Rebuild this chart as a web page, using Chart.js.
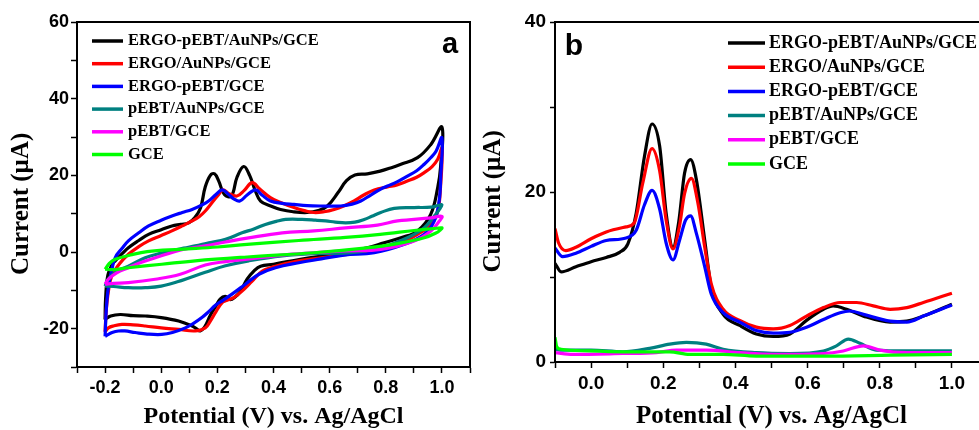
<!DOCTYPE html>
<html>
<head>
<meta charset="utf-8">
<script src="https://cdn.jsdelivr.net/npm/chart.js@4"></script>
<style>
  html, body { margin: 0; padding: 0; background: #fff; overflow: hidden; }
  body { width: 979px; height: 430px; position: relative; }
  canvas { position: absolute; top: 0; }
  #cvChart { left: 0; }
  #dpvChart { left: 480px; }
</style>
</head>
<body>
<canvas id="cvChart" width="480" height="430"></canvas>
<canvas id="dpvChart" width="520" height="430"></canvas>
<script>
// legend labels, same order in both panels
const electrodes = ['ERGO-pEBT/AuNPs/GCE', 'ERGO/AuNPs/GCE', 'ERGO-pEBT/GCE', 'pEBT/AuNPs/GCE', 'pEBT/GCE', 'GCE'];
const colours = ['#000000', '#ff0000', '#0000ff', '#008080', '#ff00ff', '#00ff00'];

// (a) cyclic voltammograms: [potential V, current uA], forward sweep then back
const cvErgoPebtAu = [[-0.2,-17.6],[-0.198,-12],[-0.19,-6],[-0.175,-3.3],[-0.164,-2.3],[-0.14,-0.5],[-0.117,1.1],[-0.08,3.0],[-0.045,4.6],[0.0,5.8],[0.038,6.8],[0.07,7.2],[0.098,7.6],[0.12,9.0],[0.14,11.5],[0.157,17.0],[0.175,20.0],[0.19,20.4],[0.205,18.5],[0.225,15.0],[0.25,14.6],[0.27,19.5],[0.294,22.3],[0.315,20.0],[0.335,16.0],[0.354,13.3],[0.39,12.0],[0.425,11.1],[0.47,10.5],[0.52,10.3],[0.56,10.8],[0.592,12.0],[0.63,15.5],[0.66,18.6],[0.69,20.1],[0.734,20.4],[0.78,21.1],[0.82,22.0],[0.854,22.9],[0.913,24.6],[0.96,28.0],[1.0,32.6],
  [0.995,22],[0.985,16.8],[0.96,9.8],[0.913,5.5],[0.854,3.7],[0.794,2.4],[0.734,1.1],[0.615,-0.6],[0.496,-1.9],[0.4,-3.2],[0.354,-3.7],[0.33,-5.0],[0.306,-7.1],[0.282,-10.3],[0.262,-11.8],[0.246,-12.4],[0.228,-11.6],[0.21,-12.3],[0.193,-14.3],[0.175,-16.5],[0.155,-19.5],[0.139,-20.6],[0.125,-20.0],[0.11,-19.3],[0.062,-18.0],[0.0,-17.1],[-0.057,-16.7],[-0.1,-16.6],[-0.146,-16.3],[-0.18,-16.7],[-0.2,-17.6]];
const cvErgoAu = [[-0.2,-20.8],[-0.196,-15.5],[-0.188,-10.2],[-0.176,-6.2],[-0.15,-3.2],[-0.117,-0.6],[-0.08,1.4],[-0.045,2.9],[0.0,4.3],[0.038,5.5],[0.075,6.8],[0.11,8.1],[0.135,9.2],[0.157,10.7],[0.18,12.8],[0.205,15.0],[0.22,16.2],[0.24,15.3],[0.27,14.6],[0.295,16.0],[0.324,18.1],[0.35,16.5],[0.389,14.2],[0.43,12.8],[0.473,11.6],[0.51,10.8],[0.544,10.3],[0.58,10.5],[0.616,11.1],[0.65,12.0],[0.687,13.3],[0.72,14.8],[0.759,16.2],[0.806,17.0],[0.84,17.5],[0.877,18.5],[0.91,19.5],[0.937,20.7],[0.965,22.3],[0.985,24.2],[1.0,27.0],
  [0.995,17],[0.985,10.7],[0.961,7.2],[0.913,4.6],[0.842,2.0],[0.759,0.3],[0.663,-0.6],[0.57,-1.5],[0.49,-2.3],[0.407,-3.7],[0.36,-5.0],[0.324,-7.6],[0.288,-10.2],[0.258,-11.9],[0.235,-12.6],[0.217,-13.2],[0.193,-15.8],[0.175,-18.0],[0.157,-19.8],[0.121,-20.6],[0.062,-20.2],[0.0,-19.8],[-0.057,-19.3],[-0.1,-19.0],[-0.14,-18.9],[-0.17,-19.3],[-0.188,-19.8],[-0.2,-20.8]];
const cvErgoPebt = [[-0.2,-22],[-0.196,-15.4],[-0.19,-10.2],[-0.182,-6.7],[-0.164,-1.5],[-0.14,0.9],[-0.117,2.9],[-0.08,5.0],[-0.045,6.8],[0.0,8.3],[0.038,9.4],[0.075,10.3],[0.11,11.1],[0.14,12.1],[0.169,13.3],[0.195,15.0],[0.217,16.2],[0.24,15.0],[0.26,13.8],[0.28,13.3],[0.305,14.8],[0.336,16.2],[0.36,14.8],[0.389,13.3],[0.43,12.7],[0.473,12.4],[0.52,12.1],[0.568,12.0],[0.639,12.0],[0.68,12.5],[0.711,13.3],[0.745,14.8],[0.782,16.4],[0.806,17.2],[0.84,18.3],[0.877,19.8],[0.91,21.2],[0.937,22.9],[0.96,24.6],[0.979,26.3],[1.0,29.8],
  [0.996,20],[0.99,13.3],[0.973,8.1],[0.937,4.6],[0.866,2.0],[0.759,-0.2],[0.651,-0.8],[0.57,-1.8],[0.49,-2.8],[0.407,-4.1],[0.348,-5.8],[0.3,-8.4],[0.252,-11.0],[0.22,-12.6],[0.193,-13.9],[0.17,-15.5],[0.145,-17.1],[0.115,-18.6],[0.086,-19.8],[0.04,-21.0],[0.002,-21.5],[-0.05,-21.4],[-0.093,-21.0],[-0.13,-20.6],[-0.152,-20.6],[-0.175,-21.0],[-0.188,-21.5],[-0.2,-22.0]];
const cvPebtAu = [[-0.2,-8.9],[-0.19,-7.2],[-0.17,-5.7],[-0.15,-4.7],[-0.117,-3.7],[-0.057,-1.5],[0.0,-0.3],[0.038,0.3],[0.08,1.0],[0.121,1.6],[0.17,2.4],[0.229,3.3],[0.288,5.0],[0.33,6.0],[0.371,7.2],[0.41,8.0],[0.443,8.5],[0.502,8.5],[0.55,8.3],[0.586,8.1],[0.62,7.8],[0.657,7.6],[0.69,7.8],[0.723,8.5],[0.75,9.3],[0.782,10.3],[0.83,11.4],[0.901,11.6],[0.961,11.7],[0.99,12.2],[1.0,12.3],
  [0.99,11],[0.973,9.4],[0.937,6.3],[0.877,3.7],[0.782,1.1],[0.675,-0.2],[0.55,-0.4],[0.431,-1.0],[0.312,-2.3],[0.229,-3.6],[0.157,-5.3],[0.074,-7.4],[0.0,-8.9],[-0.057,-9.3],[-0.117,-9.3],[-0.17,-9.0],[-0.2,-8.9]];
const cvPebt = [[-0.2,-8.4],[-0.188,-7.1],[-0.16,-5.5],[-0.117,-4.1],[-0.07,-2.7],[-0.021,-1.5],[0.074,0.6],[0.157,1.6],[0.229,2.6],[0.306,3.6],[0.431,5.0],[0.544,5.5],[0.657,6.3],[0.77,7.0],[0.842,8.1],[0.961,8.9],[1.0,9.3],
  [0.99,8.0],[0.961,5.5],[0.901,2.9],[0.782,0.7],[0.657,0.3],[0.544,-0.2],[0.431,-0.8],[0.306,-1.9],[0.229,-2.5],[0.157,-3.4],[0.068,-5.8],[-0.021,-7.1],[-0.117,-8.0],[-0.17,-8.2],[-0.2,-8.4]];
const cvBare = [[-0.2,-4.5],[-0.185,-3.0],[-0.164,-1.9],[-0.11,-0.8],[-0.05,0.1],[0.068,0.7],[0.2,1.3],[0.306,2.0],[0.49,3.0],[0.657,3.8],[0.78,4.6],[0.901,5.6],[0.98,6.2],[1.0,6.3],
  [0.995,5.8],[0.985,5.2],[0.937,3.7],[0.842,2.2],[0.723,1.0],[0.544,-0.2],[0.306,-1.3],[0.121,-2.3],[0.002,-3.2],[-0.117,-4.1],[-0.17,-4.6],[-0.2,-4.5]];

// (b) differential pulse voltammograms: [potential V, current uA]
const dpvErgoPebtAu = [[-0.1,11.6],[-0.083,10.6],[-0.042,11.2],[0.0,11.8],[0.042,12.3],[0.079,12.9],[0.102,13.9],[0.125,17.5],[0.148,24.2],[0.169,28.0],[0.19,25.4],[0.208,17.5],[0.227,13.5],[0.243,16.5],[0.259,22.2],[0.276,23.8],[0.292,21.4],[0.315,14.3],[0.333,8.8],[0.366,5.6],[0.412,4.3],[0.458,3.3],[0.505,3.0],[0.551,3.3],[0.597,4.9],[0.644,6.2],[0.671,6.6],[0.708,6.2],[0.755,5.4],[0.829,4.7],[0.875,4.8],[0.921,5.4],[1.0,6.8]];
const dpvErgoAu = [[-0.1,15.7],[-0.09,14.0],[-0.07,13.1],[-0.042,13.5],[0.0,14.5],[0.042,15.3],[0.097,15.9],[0.12,16.4],[0.143,21.0],[0.169,25.1],[0.19,22.5],[0.208,16.7],[0.227,13.3],[0.245,16.0],[0.259,19.8],[0.278,21.6],[0.296,18.7],[0.315,13.5],[0.333,9.2],[0.366,6.2],[0.412,4.9],[0.458,4.1],[0.505,3.9],[0.551,4.3],[0.597,5.4],[0.644,6.4],[0.69,7.0],[0.736,7.0],[0.782,6.6],[0.829,6.2],[0.875,6.4],[0.921,7.0],[1.0,8.1]];
const dpvErgoPebt = [[-0.1,13.4],[-0.079,12.4],[-0.042,12.8],[0.0,13.6],[0.042,14.3],[0.097,14.6],[0.125,15.5],[0.148,18.5],[0.169,20.2],[0.19,18.0],[0.208,14.0],[0.227,12.0],[0.245,14.3],[0.262,16.7],[0.276,17.2],[0.292,15.1],[0.315,11.2],[0.333,8.0],[0.366,5.8],[0.412,4.7],[0.458,3.7],[0.505,3.4],[0.551,3.5],[0.597,4.1],[0.644,5.0],[0.69,5.8],[0.718,6.0],[0.755,5.6],[0.829,4.8],[0.875,4.7],[0.921,5.4],[1.0,6.7]];
const dpvPebtAu = [[-0.1,1.5],[-0.08,1.4],[0.0,1.4],[0.088,1.2],[0.162,1.6],[0.218,2.1],[0.264,2.3],[0.319,2.1],[0.366,1.5],[0.458,1.1],[0.551,1.0],[0.644,1.3],[0.68,1.9],[0.713,2.7],[0.745,2.2],[0.79,1.4],[0.875,1.3],[1.0,1.3]];
const dpvPebt = [[-0.1,1.1],[-0.051,0.9],[0.088,1.0],[0.181,1.1],[0.236,1.4],[0.319,1.4],[0.412,1.1],[0.505,0.9],[0.644,1.0],[0.699,1.3],[0.755,1.9],[0.8,1.4],[0.875,1.1],[1.0,1.1]];
const dpvBare = [[-0.1,2.9],[-0.095,1.8],[-0.083,1.5],[-0.005,1.3],[0.088,1.2],[0.218,1.2],[0.273,0.9],[0.366,0.9],[0.458,0.7],[0.644,0.7],[0.829,0.8],[1.0,0.9]];

const cvSeries = [cvErgoPebtAu, cvErgoAu, cvErgoPebt, cvPebtAu, cvPebt, cvBare];
const dpvSeries = [dpvErgoPebtAu, dpvErgoAu, dpvErgoPebt, dpvPebtAu, dpvPebt, dpvBare];

const serif = 'Liberation Serif, Times New Roman, serif';
const sans = 'Liberation Sans, Arial, sans-serif';

// frame, in-plot legend and panel letter
const panelDecor = {
  id: 'panelDecor',
  afterDraw(chart, args, o) {
    const ctx = chart.ctx;
    const a = chart.chartArea;
    ctx.save();
    ctx.strokeStyle = '#000';
    ctx.lineWidth = 2;
    ctx.strokeRect(a.left, a.top, a.right - a.left, a.bottom - a.top);

    ctx.font = 'bold ' + o.legendSize + 'px ' + serif;
    ctx.textBaseline = 'middle';
    ctx.textAlign = 'left';
    chart.data.datasets.forEach((ds, i) => {
      const y = o.legendY + i * o.legendGap;
      ctx.strokeStyle = ds.borderColor;
      ctx.lineWidth = 3.5;
      ctx.beginPath();
      ctx.moveTo(o.legendX, y);
      ctx.lineTo(o.legendX + o.lineLen, y);
      ctx.stroke();
      ctx.fillStyle = '#000';
      ctx.fillText(ds.label, o.legendX + o.lineLen + o.textGap, y);
    });

    ctx.font = 'bold ' + o.letterSize + 'px ' + sans;
    ctx.textAlign = 'center';
    ctx.textBaseline = 'alphabetic';
    ctx.fillText(o.letter, o.letterX, o.letterY);
    ctx.restore();
  }
};

function makeDatasets(series, cubic) {
  return series.map((pts, i) => ({
    label: electrodes[i],
    data: pts.map(p => ({ x: p[0], y: p[1] })),
    borderColor: colours[i],
    backgroundColor: colours[i],
    borderWidth: 3.2,
    pointRadius: 0,
    showLine: true,
    fill: false,
    tension: 0.4,
    cubicInterpolationMode: cubic ? 'monotone' : 'default',
    order: series.length - i
  }));
}

function axisOpts(cfg) {
  return {
    type: 'linear',
    position: cfg.position,
    min: cfg.min,
    max: cfg.max,
    afterFit: cfg.fit,
    border: { display: true, color: '#000', width: 2 },
    grid: { drawOnChartArea: false, drawTicks: true, tickLength: cfg.tickLength, tickWidth: 1.5, tickColor: '#000' },
    ticks: {
      stepSize: cfg.step,
      autoSkip: false,
      maxRotation: 0,
      padding: cfg.padding,
      color: '#000',
      font: { family: sans, weight: 'bold', size: cfg.tickSize },
      callback: cfg.label
    },
    title: {
      display: true,
      text: cfg.title,
      color: '#000',
      font: { family: serif, weight: 'bold', size: cfg.titleSize, lineHeight: 1 },
      padding: cfg.titlePad
    }
  };
}

const tenthLabel = v => {
  const t = Math.round(v * 10);
  return t % 2 === 0 ? (t / 10).toFixed(1) : '';
};
const twentyLabel = v => (Math.round(v) % 20 === 0 ? Math.round(v) : '');

// trailing spaces nudge the rotated title a little lower, as in the original
const currentTitle = 'Current (\u00b5A)   ';

new Chart(document.getElementById('cvChart'), {
  type: 'scatter',
  data: { datasets: makeDatasets(cvSeries, false) },
  options: {
    responsive: false,
    animation: false,
    layout: { padding: { left: 0, right: 10, top: 22, bottom: 0 } },
    plugins: {
      legend: { display: false },
      tooltip: { enabled: false },
      panelDecor: { legendX: 92, legendY: 41, legendGap: 22.7, lineLen: 31, textGap: 5, legendSize: 16.5,
                    letter: 'a', letterX: 450, letterY: 53, letterSize: 29 }
    },
    scales: {
      x: axisOpts({ position: 'bottom', min: -0.3, max: 1.1, step: 0.1, tickLength: 6, padding: 4, tickSize: 18,
                    label: tenthLabel, title: 'Potential (V) vs. Ag/AgCl', titleSize: 24,
                    titlePad: { top: 0, bottom: 1 }, fit: s => { s.height = 63; } }),
      y: axisOpts({ position: 'left', min: -30, max: 60, step: 10, tickLength: 6, padding: 2, tickSize: 18,
                    label: twentyLabel, title: currentTitle, titleSize: 25,
                    titlePad: { top: 9, bottom: 0 }, fit: s => { s.width = 77; } })
    }
  },
  plugins: [panelDecor]
});

new Chart(document.getElementById('dpvChart'), {
  type: 'scatter',
  data: { datasets: makeDatasets(dpvSeries, true) },
  options: {
    responsive: false,
    animation: false,
    layout: { padding: { left: 0, right: 12, top: 22, bottom: 0 } },
    plugins: {
      legend: { display: false },
      tooltip: { enabled: false },
      panelDecor: { legendX: 248, legendY: 43, legendGap: 24.2, lineLen: 37, textGap: 4, legendSize: 18,
                    letter: 'b', letterX: 94, letterY: 55, letterSize: 30 }
    },
    scales: {
      x: axisOpts({ position: 'bottom', min: -0.1, max: 1.1, step: 0.1, tickLength: 6, padding: 4, tickSize: 19,
                    label: tenthLabel, title: 'Potential (V) vs. Ag/AgCl', titleSize: 25,
                    titlePad: { top: 0, bottom: 1 }, fit: s => { s.height = 68; } }),
      y: axisOpts({ position: 'left', min: 0, max: 40, step: 10, tickLength: 5, padding: 4, tickSize: 19,
                    label: twentyLabel, title: currentTitle, titleSize: 25,
                    titlePad: { top: 1, bottom: 0 }, fit: s => { s.width = 75; } })
    }
  },
  plugins: [panelDecor]
});
</script>
</body>
</html>
